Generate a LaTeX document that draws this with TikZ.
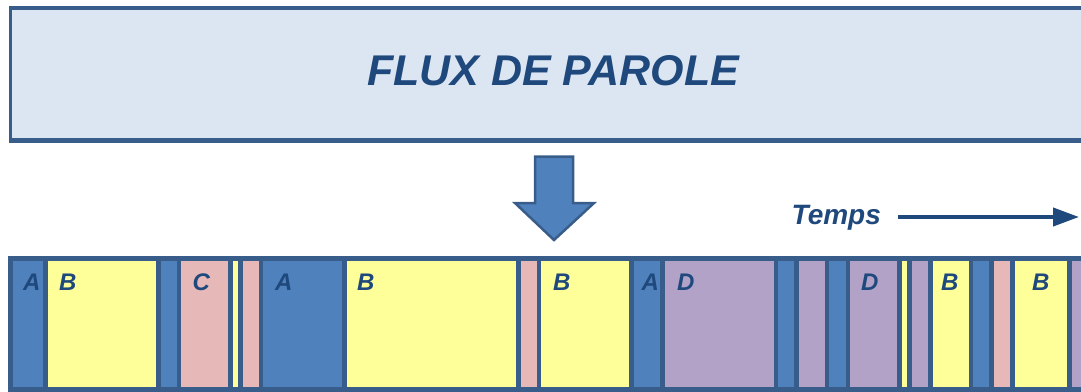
\documentclass[tikz,border=0pt]{standalone}
\usepackage{fontspec}
\setmainfont{Liberation Sans}
\usetikzlibrary{arrows.meta}
\definecolor{bordc}{HTML}{385D8A}
\definecolor{textc}{HTML}{1F497D}
\definecolor{boxfill}{HTML}{DCE6F2}
\definecolor{segblue}{HTML}{4F81BD}
\definecolor{segyellow}{HTML}{FFFF99}
\definecolor{segpink}{HTML}{E6B9B8}
\definecolor{segpurple}{HTML}{B2A2C7}
\tikzset{
  seg/.style={draw=bordc, line width=4.5pt},
  lbl/.style={anchor=base west, inner sep=0pt, text=textc, font=\fontsize{24}{24}\selectfont\bfseries\itshape},
}
\begin{document}
\begin{tikzpicture}[x=1pt,y=-1pt]
\useasboundingbox (0,0) rectangle (1081,391);
\clip (0,0) rectangle (1081,391);
% title box
\draw[draw=bordc, fill=boxfill, line width=3.5pt] (10.7,7.8) rectangle (1100,139.5);
\draw[draw=bordc, line width=3pt] (9,141.5) -- (1100,141.5);
\node[text=textc, font=\fontsize{43}{43}\selectfont\bfseries\itshape, inner sep=0pt, anchor=base] (title) at (553,85) {FLUX DE PAROLE};
% down arrow
\filldraw[draw=bordc, fill=segblue, line width=2.5pt, line join=miter]
  (535,156.5) -- (573,156.5) -- (573,203) -- (594,203) -- (554,240) -- (515,203) -- (535,203) -- cycle;
% time arrow
\node[text=textc, font=\fontsize{28}{28}\selectfont\bfseries\itshape, inner sep=0pt, anchor=base west] (temps) at (791.5,224) {Temps};
\coordinate (tend) at (1079,217);
\draw[draw=textc, line width=4pt, -{Triangle[length=26pt,width=18pt]}] (898,217) -- (tend);
% segments
\def\ytop{258.5}
\def\ybot{389.5}
\foreach \xa/\xb/\c in {
  10.7/45.5/segblue, 45.5/158.5/segyellow, 158.5/179/segblue, 179/230.5/segpink,
  230.5/240.5/segyellow, 240.5/261/segpink, 261/344.5/segblue, 344.5/518.5/segyellow,
  518.5/539/segpink, 539/631.5/segyellow, 631.5/662.5/segblue, 662.5/776/segpurple,
  776/796.5/segblue, 796.5/827/segpurple, 827/848/segblue, 848/899.5/segpurple,
  899.5/909.5/segyellow, 909.5/930.5/segpurple, 930.5/971/segyellow, 971/991.5/segblue,
  991.5/1012.5/segpink, 1012.5/1069.5/segyellow, 1069.5/1095/segpurple}
  {\filldraw[seg, fill=\c] (\xa,\ytop) rectangle (\xb,\ybot);}
% labels
\node[lbl] (l1) at (23,290) {A};
\node[lbl] (l2) at (59,290) {B};
\node[lbl] (l3) at (192.5,290) {C};
\node[lbl] (l4) at (275,290) {A};
\node[lbl] (l5) at (357,290) {B};
\node[lbl] (l6) at (553,290) {B};
\node[lbl] (l7) at (641.5,290) {A};
\node[lbl] (l8) at (677,290) {D};
\node[lbl] (l9) at (861,290) {D};
\node[lbl] (l10) at (941,290) {B};
\node[lbl] (l11) at (1032,290) {B};
\end{tikzpicture}
\end{document}
